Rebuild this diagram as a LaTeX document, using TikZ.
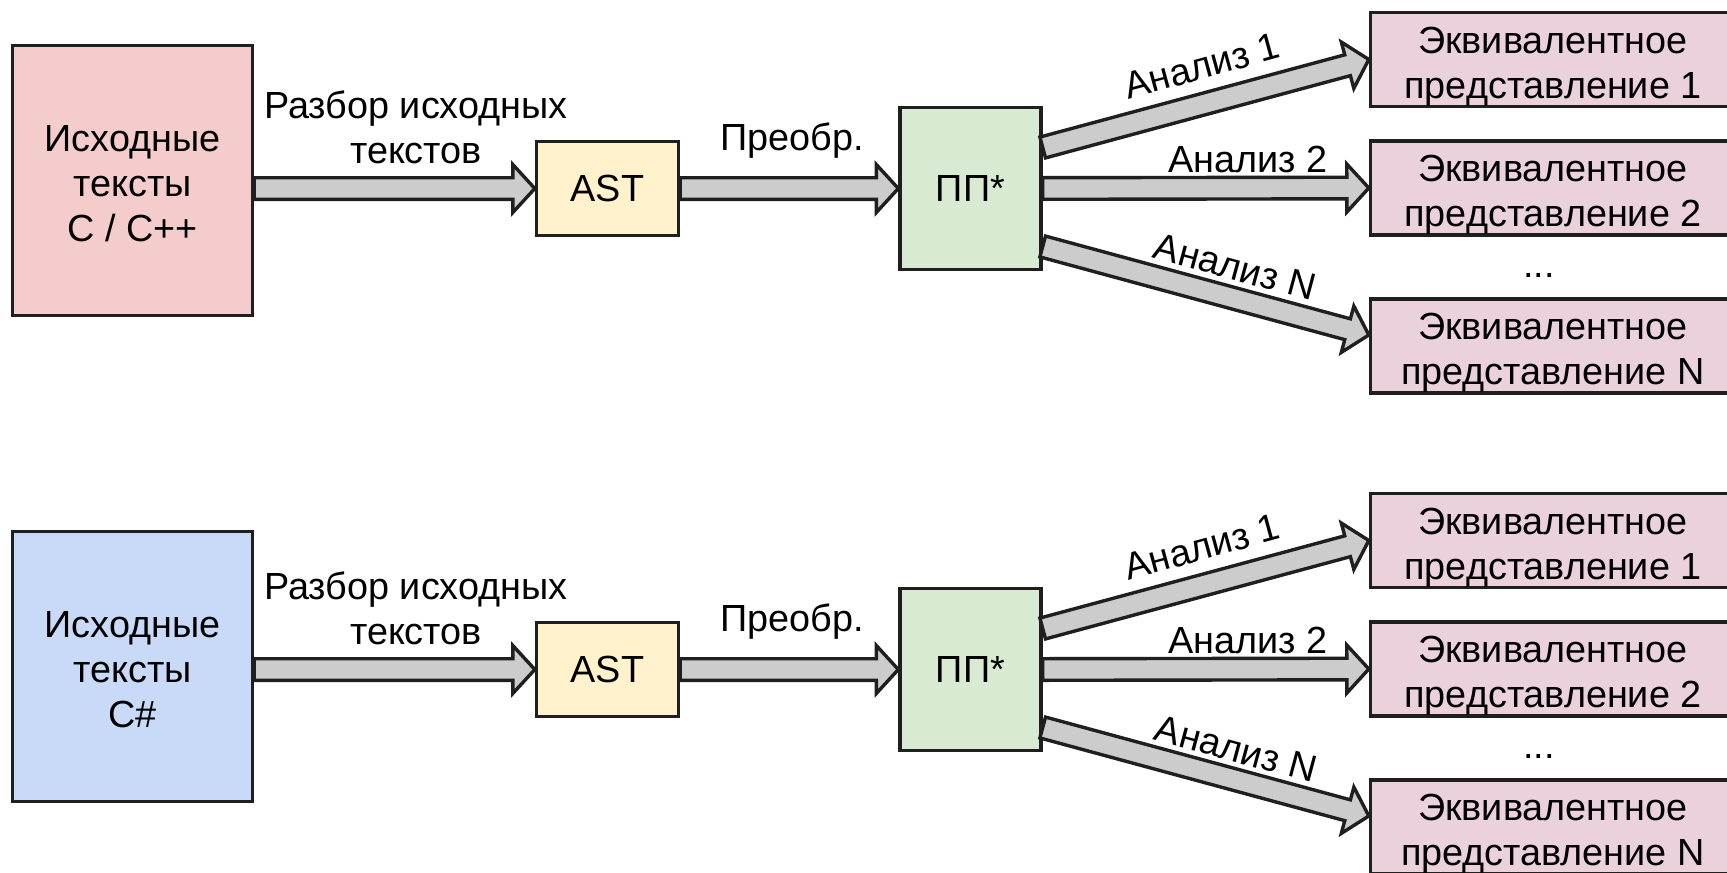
\documentclass[tikz,border=0pt]{standalone}
\usepackage{fontspec}
\setmainfont{Liberation Sans}
\usetikzlibrary{calc}
\definecolor{srcpink}{HTML}{F4CCCC}
\definecolor{srcblue}{HTML}{C9DAF8}
\definecolor{astyellow}{HTML}{FFF2CC}
\definecolor{ppgreen}{HTML}{D9EAD3}
\definecolor{eqpink}{HTML}{EAD1DC}
\definecolor{arrowgray}{HTML}{CCCCCC}
\definecolor{edgeblack}{HTML}{1F1F1F}
\newcommand\fatarrow[2]{%
  \coordinate (fab) at ($(#2)!11pt!(#1)$);
  \filldraw[fatarrowstyle]
    ($(#1)!5.4pt!90:(#2)$) -- ($(fab)!5.4pt!90:(#2)$) -- ($(fab)!12pt!90:(#2)$)
    -- (#2)
    -- ($(fab)!12pt!-90:(#2)$) -- ($(fab)!5.4pt!-90:(#2)$) -- ($(#1)!5.4pt!-90:(#2)$) -- cycle;}
\newcommand\firstline{\rule{0pt}{20pt}}
\newcommand\srcline{\rule{0pt}{16.5pt}}
\begin{document}
\begin{tikzpicture}[x=0.5pt,y=-0.5pt,
  every node/.style={font=\fontsize{18.9pt}{22.5pt}\selectfont},
  box/.style={draw=edgeblack, line width=1.7pt, align=center, inner sep=0pt},
  srcbox/.style={box, minimum width=120pt, minimum height=135pt},
  astbox/.style={box, fill=astyellow, minimum width=71pt, minimum height=47pt},
  ppbox/.style={box, fill=ppgreen, minimum width=70.5pt, minimum height=81pt},
  eqbox/.style={box, fill=eqpink, minimum width=182.5pt, minimum height=47pt},
  fatarrowstyle/.style={fill=arrowgray, draw=edgeblack, line width=1.7pt, line join=miter},
  lbl/.style={inner sep=0pt, align=center}]
\useasboundingbox (0,0) rectangle (1727,872);
\clip (0,0) rectangle (1727,872);
\fill[white] (0,0) rectangle (1727,872);

% ---------- top row ----------
\node[srcbox, fill=srcpink] (src1) at (132.5,180.5) {\srcline Исходные\\тексты\\C / C++};
\node[astbox] (ast1) at (607.5,188.5) {AST};
\node[ppbox] (pp1) at (970.5,188.5) {ПП*};
\node[eqbox] (e11) at (1553,59.5) {\firstline Эквивалентное\\представление 1};
\node[eqbox] (e12) at (1553,188) {\firstline Эквивалентное\\представление 2};
\node[eqbox] (e1n) at (1553,346) {\firstline Эквивалентное\\представление N};
\node[lbl, anchor=base] (dots1) at (1539,277) {...};

\node[lbl] (parse1) at (416,127) {Разбор исходных\\текстов};
\node[lbl, anchor=base] (conv1) at (792,150) {Преобр.};
\node[lbl, rotate=15.3] (an11) at (1202,66) {Анализ 1};
\node[lbl, anchor=base] (an12) at (1248,172) {Анализ 2};
\node[lbl, rotate=-15.1] (an1n) at (1235,267) {Анализ N};

\coordinate (s11) at ([yshift=20.5pt]pp1.east);
\coordinate (s1n) at ([yshift=-29pt]pp1.east);
\coordinate (t1n) at ([yshift=5.5pt]e1n.west);
\coordinate (s10) at (src1.east |- ast1.west);
\fatarrow{s10}{ast1.west}
\fatarrow{ast1.east}{pp1.west}
\fatarrow{s11}{e11.west}
\fatarrow{pp1.east}{e12.west}
\fatarrow{s1n}{t1n}

% ---------- bottom row ----------
\node[srcbox, fill=srcblue] (src2) at (132.5,666.5) {\srcline Исходные\\тексты\\C\#};
\node[astbox] (ast2) at (607.5,669.5) {AST};
\node[ppbox] (pp2) at (970.5,669.5) {ПП*};
\node[eqbox] (e21) at (1553,540.5) {\firstline Эквивалентное\\представление 1};
\node[eqbox] (e22) at (1553,669) {\firstline Эквивалентное\\представление 2};
\node[eqbox] (e2n) at (1553,827) {\firstline Эквивалентное\\представление N};
\node[lbl, anchor=base] (dots2) at (1539,758) {...};

\node[lbl] (parse2) at (416,608) {Разбор исходных\\текстов};
\node[lbl, anchor=base] (conv2) at (792,631) {Преобр.};
\node[lbl, rotate=15.3] (an21) at (1202,547) {Анализ 1};
\node[lbl, anchor=base] (an22) at (1248,653) {Анализ 2};
\node[lbl, rotate=-15.1] (an2n) at (1236,749) {Анализ N};

\coordinate (s21) at ([yshift=20.5pt]pp2.east);
\coordinate (s2n) at ([yshift=-29pt]pp2.east);
\coordinate (t2n) at ([yshift=5.5pt]e2n.west);
\coordinate (s20) at (src2.east |- ast2.west);
\fatarrow{s20}{ast2.west}
\fatarrow{ast2.east}{pp2.west}
\fatarrow{s21}{e21.west}
\fatarrow{pp2.east}{e22.west}
\fatarrow{s2n}{t2n}
\end{tikzpicture}
\end{document}
